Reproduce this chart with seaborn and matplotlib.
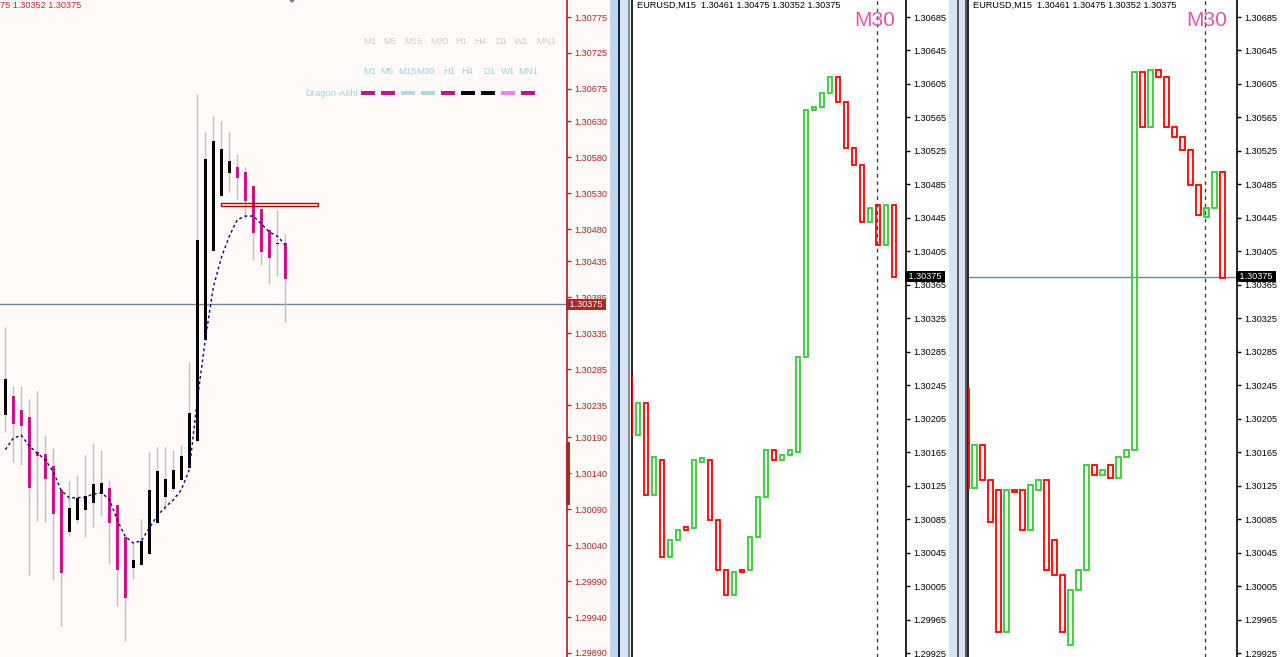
import matplotlib
matplotlib.use('Agg')
import matplotlib.pyplot as plt
import matplotlib.transforms as mtransforms
from matplotlib.patches import Rectangle, Polygon
import numpy as np
import pandas as pd
import seaborn as sns

W, H = 1280, 657

# ---------------- left chart (Dragon-Ashi bars) ----------------
left_open = [1.30221, 1.30247, 1.30228, 1.30219, 1.30170, 1.30167, 1.30150, 1.30117, 1.30058, 1.30075,
             1.30089, 1.30099, 1.30111, 1.30120, 1.30096, 1.30052, 1.30008, 1.30013, 1.30028, 1.30071,
             1.30107, 1.30118, 1.30131, 1.30148, 1.30185, 1.30325, 1.30450, 1.30526, 1.30558, 1.30566,
             1.30559, 1.30540, 1.30508, 1.30479, 1.30459, 1.30461]
left_high = [1.30344, 1.30262, 1.30262, 1.30244, 1.30255, 1.30193, 1.30175, 1.30117, 1.30129, 1.30138,
             1.30166, 1.30182, 1.30173, 1.30131, 1.30096, 1.30052, 1.30043, 1.30077, 1.30170, 1.30177,
             1.30177, 1.30173, 1.30179, 1.30295, 1.30668, 1.30615, 1.30637, 1.30630, 1.30615, 1.30584,
             1.30566, 1.30540, 1.30508, 1.30480, 1.30507, 1.30473]
left_low = [1.30198, 1.30156, 1.30152, 1.29998, 1.30074, 1.30072, 1.29992, 1.29928, 1.30053, 1.30071,
            1.30052, 1.30066, 1.30081, 1.30014, 1.29956, 1.29906, 1.29993, 1.30013, 1.30028, 1.30071,
            1.30089, 1.30116, 1.30131, 1.30148, 1.30185, 1.30325, 1.30450, 1.30526, 1.30531, 1.30520,
            1.30495, 1.30437, 1.30430, 1.30403, 1.30414, 1.30350]
left_close = [1.30271, 1.30209, 1.30206, 1.30120, 1.30164, 1.30132, 1.30084, 1.30001, 1.30092, 1.30106,
              1.30109, 1.30125, 1.30127, 1.30071, 1.30006, 1.29967, 1.30020, 1.30046, 1.30117, 1.30143,
              1.30132, 1.30145, 1.30164, 1.30224, 1.30465, 1.30578, 1.30603, 1.30591, 1.30574, 1.30551,
              1.30519, 1.30475, 1.30448, 1.30440, 1.30461, 1.30411]
left_ma = [1.30173, 1.30189, 1.30193, 1.30178, 1.30168, 1.30159, 1.30142, 1.30116, 1.30106, 1.30106,
           1.30107, 1.30111, 1.30113, 1.30104, 1.30075, 1.30052, 1.30043, 1.30046, 1.30064, 1.30081,
           1.30093, 1.30103, 1.30117, 1.30145, 1.30242, 1.30326, 1.30399, 1.30440, 1.30470, 1.30493,
           1.30498, 1.30498, 1.30487, 1.30476, 1.30470, 1.30458]
left_ticks = [1.30775, 1.30725, 1.30675, 1.30630, 1.30580, 1.30530, 1.30480, 1.30435, 1.30385, 1.30335,
              1.30285, 1.30235, 1.30190, 1.30140, 1.30090, 1.30040, 1.29990, 1.29940, 1.29890]
left_ylim = (1.298844, 1.307987)
zone_start, zone_end = 26.96, 39.05
zone_low, zone_high = 1.305125, 1.305158
spread_low, spread_high = 1.30096, 1.30184
last_price = 1.30375

tf_labels = ['M1', 'M5', 'M15', 'M30', 'H1', 'H4', 'D1', 'W1', 'MN1']
dragon_colors = ['#C71585', '#C71585', '#ADD8E6', '#ADD8E6', '#C71585', '#000000', '#000000',
                 '#EE82EE', '#C71585']

# ---------------- middle chart (M15) ----------------
mid_open = [1.30255, 1.30186, 1.30224, 1.30114, 1.30156, 1.30040, 1.30061, 1.30076, 1.30075, 1.30154,
            1.30156, 1.30084, 1.30025, 1.29995, 1.30025, 1.30025, 1.30064, 1.30112, 1.30168, 1.30156,
            1.30162, 1.30166, 1.30279, 1.30574, 1.30577, 1.30594, 1.30613, 1.30584, 1.30529, 1.30508,
            1.30440, 1.30460, 1.30413, 1.30461]
mid_close = [1.30186, 1.30224, 1.30114, 1.30160, 1.30040, 1.30061, 1.30073, 1.30073, 1.30156, 1.30158,
             1.30084, 1.30025, 1.29995, 1.30022, 1.30022, 1.30064, 1.30112, 1.30168, 1.30156, 1.30162,
             1.30168, 1.30279, 1.30574, 1.30577, 1.30594, 1.30613, 1.30584, 1.30529, 1.30508, 1.30440,
             1.30457, 1.30413, 1.30460, 1.30375]

# ---------------- right chart (M15 with M30 overlay) ----------------
right_open = [1.30241, 1.30123, 1.30174, 1.30132, 1.30120, 1.29951, 1.30120, 1.30120, 1.30072, 1.30120,
              1.30132, 1.30061, 1.30019, 1.29935, 1.30001, 1.30025, 1.30150, 1.30138, 1.30150, 1.30135,
              1.30160, 1.30168, 1.30619, 1.30554, 1.30622, 1.30613, 1.30554, 1.30542, 1.30526, 1.30484,
              1.30446, 1.30457, 1.30500]
right_close = [1.30123, 1.30174, 1.30132, 1.30082, 1.29951, 1.30120, 1.30118, 1.30072, 1.30126, 1.30132,
               1.30025, 1.30019, 1.29951, 1.30001, 1.30025, 1.30150, 1.30138, 1.30144, 1.30135, 1.30160,
               1.30168, 1.30619, 1.30554, 1.30622, 1.30613, 1.30554, 1.30542, 1.30526, 1.30484, 1.30448,
               1.30457, 1.30500, 1.30373]

mt_ticks = [1.30685, 1.30645, 1.30605, 1.30565, 1.30525, 1.30485, 1.30445, 1.30405, 1.30365, 1.30325,
            1.30285, 1.30245, 1.30205, 1.30165, 1.30125, 1.30085, 1.30045, 1.30005, 1.29965, 1.29925]
mt_ylim = (1.299208, 1.307053)
title = 'EURUSD,M15  1.30461 1.30475 1.30352 1.30375'

sns.set_theme(style='white')
plt.rcParams['font.family'] = ['Liberation Sans', 'DejaVu Sans']

fig = plt.figure(figsize=(12.8, 6.57), dpi=100)
fig.patch.set_facecolor('white')


def frect(x0, y0, x1, y1, color, z=-5):
    fig.patches.append(Rectangle((x0 / W, 1 - y1 / H), (x1 - x0) / W, (y1 - y0) / H,
                                 transform=fig.transFigure, facecolor=color, edgecolor='none',
                                 zorder=z))


def ftext(x, y, s, **kw):
    fig.text(x / W, 1 - y / H, s, **kw)


def panel(x0, x1, first_center, step):
    ax = fig.add_axes([x0 / W, 0, (x1 - x0) / W, 1])
    ax.set_xlim((x0 - first_center) / step, (x1 - first_center) / step)
    ax.patch.set_visible(False)
    for s in ['top', 'bottom']:
        ax.spines[s].set_visible(False)
    ax.set_xticks([])
    ax.yaxis.tick_right()
    return ax


def price_box(ax, price, fc):
    tr = mtransforms.blended_transform_factory(ax.transAxes, ax.transData)
    ax.text(1.0, price, ' ' + f'{price:.5f}' + ' ', transform=tr, color='white', fontsize=6.6,
            va='center', ha='left', clip_on=False, zorder=10,
            bbox=dict(boxstyle='square,pad=0.12', fc=fc, ec='none'))


# backgrounds and separators
frect(0, 0, 610, H, '#FFFAF8')
frect(610, 0, 618, H, '#BDD7EE')
frect(618, 0, 620, H, '#12263A')
frect(620, 0, 628, H, '#D6E4F2')
frect(628, 0, 630, H, '#8C8C8C')
frect(949, 0, 957, H, '#D6E4F2')
frect(957, 0, 958.5, H, '#5A5A5A')
frect(958.5, 0, 965, H, '#D6E4F2')
frect(965, 0, 966.5, H, '#5A5A5A')

# ---------------- left chart ----------------
ax1 = panel(0, 567, 5.3, 8)
ax1.spines['left'].set_visible(False)
ax1.spines['right'].set_color('#A52A2A')
ax1.set_ylim(*left_ylim)
df1 = pd.DataFrame({'open': left_open, 'high': left_high, 'low': left_low, 'close': left_close})
df1['i'] = np.arange(len(df1))
up1 = df1['close'] >= df1['open']
ax1.vlines(df1['i'], df1['low'], df1['high'], color='#C0C0C0', lw=1, zorder=2)
body_lo = df1[['open', 'close']].min(axis=1)
body_h = (df1['close'] - df1['open']).abs().clip(lower=0.00002)
ax1.bar(df1['i'], body_h, bottom=body_lo, width=0.42, lw=0,
        color=np.where(up1, '#000000', '#C71585'), zorder=3)
sns.lineplot(x=df1['i'], y=left_ma, ax=ax1, color='#000080', lw=1, linestyle=(0, (2, 2)),
             zorder=4)
ax1.axhline(last_price, color='#6E8599', lw=1, zorder=1)
ax1.add_patch(Rectangle((zone_start, zone_low), zone_end - zone_start, zone_high - zone_low,
                        fill=False, ec='#B00000', lw=1, zorder=5))
tr1 = mtransforms.blended_transform_factory(ax1.transAxes, ax1.transData)
ax1.add_patch(Rectangle((0.9985, spread_low), 0.006, spread_high - spread_low, transform=tr1,
                        fc='#A52A2A', ec='none', clip_on=False, zorder=6))
ax1.set_yticks(left_ticks)
ax1.set_yticklabels([f'{t:.5f}' for t in left_ticks])
ax1.tick_params(axis='y', right=True, direction='out', length=3, width=1, color='#A52A2A',
                labelcolor='#B22222', labelsize=6.6, pad=2.5)
ax1.set_ylabel('')
ax1.set_xlabel('')
price_box(ax1, last_price, '#A52A2A')

ftext(0, 5, '75 1.30352 1.30375', color='#C0282C', fontsize=6.6, va='center')
fig.patches.append(Polygon([[289 / W, 1], [295 / W, 1], [292 / W, 1 - 3 / H]],
                           transform=fig.transFigure, fc='#708090', ec='none'))
row1_x = [369.7, 390, 413, 439, 461, 480, 501, 521, 546]
row2_x = [369.7, 387, 407, 425.5, 449, 467.5, 489, 508, 528]
for lab, xa, xb in zip(tf_labels, row1_x, row2_x):
    ftext(xa, 41.5, lab, color='#CFCFCF', fontsize=6.8, ha='center', va='center')
    ftext(xb, 71.5, lab, color='#9ED3E6', fontsize=6.8, ha='center', va='center')
ftext(305, 93, 'Dragon-Ashi', color='#9ED3E6', fontsize=6.8, va='center')
for n, c in enumerate(dragon_colors):
    frect(361 + 20 * n, 91, 375 + 20 * n, 95, c, z=3)

# ---------------- middle & right charts ----------------


def hollow_candles(ax, opens, closes, start):
    d = pd.DataFrame({'open': opens, 'close': closes})
    d['x'] = np.arange(len(d)) + start
    col = np.where(d['close'] >= d['open'], '#32CD32', '#FF0000')
    lo = d[['open', 'close']].min(axis=1)
    hgt = (d['close'] - d['open']).abs().clip(lower=0.000005)
    ax.bar(d['x'], hgt, bottom=lo, width=0.55, fill=False, edgecolor=col, lw=1.3, zorder=3)


def mt_axes(ax):
    ax.set_ylim(*mt_ylim)
    for s in ['left', 'right']:
        ax.spines[s].set_color('black')
        ax.spines[s].set_linewidth(1.2)
    ax.set_yticks(mt_ticks)
    ax.set_yticklabels([f'{t:.5f}' for t in mt_ticks])
    ax.tick_params(axis='y', right=True, direction='out', length=3, width=1, color='black',
                   labelcolor='black', labelsize=6.6, pad=2.5)


ax2 = panel(632, 906, 638, 8)
mt_axes(ax2)
hollow_candles(ax2, mid_open, mid_close, -1)
ax2.axvline(29.9, color='#333333', lw=0.9, linestyle=(0, (3, 3)), zorder=2)
price_box(ax2, last_price, 'black')
ftext(637, 5, title, color='black', fontsize=6.6, va='center')
ftext(875, 20, 'M30', color='#E455B0', fontsize=15, ha='center', va='center')

ax3 = panel(968, 1237, 966.5, 8)
mt_axes(ax3)
hollow_candles(ax3, right_open, right_close, 0)
ax3.axhline(last_price, color='#6E8599', lw=1, zorder=1)
ax3.axvline(29.8, color='#333333', lw=0.9, linestyle=(0, (3, 3)), zorder=2)
price_box(ax3, last_price, 'black')
ftext(973, 5, title, color='black', fontsize=6.6, va='center')
ftext(1207, 20, 'M30', color='#E455B0', fontsize=15, ha='center', va='center')

fig.savefig('out.png', dpi=100)
